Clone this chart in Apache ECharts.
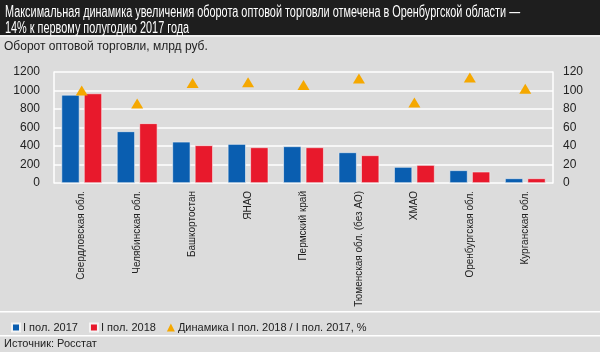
<!DOCTYPE html>
<html>
<head>
<meta charset="utf-8">
<script src="https://cdn.jsdelivr.net/npm/echarts@6/dist/echarts.min.js"></script>
<style>
  html, body { margin: 0; padding: 0; background: #dcdcdc; }
  #chart { width: 600px; height: 352px; }
</style>
</head>
<body>
<div id="chart"></div>
<script>
var regions = ['Свердловская обл.', 'Челябинская обл.', 'Башкортостан', 'ЯНАО', 'Пермский край',
    'Тюменская обл. (без АО)', 'ХМАО', 'Оренбургская обл.', 'Курганская обл.'];
var turnover2017 = [953, 558, 446, 421, 396, 331, 173, 137, 50];
var turnover2018 = [968, 645, 407, 385, 385, 299, 194, 122, 50];
var dynamics = [100, 86, 108, 109, 106, 113, 87, 114, 102];

var font = '"Liberation Sans", Arial, sans-serif';
var titleText = 'Максимальная динамика увеличения оборота оптовой торговли отмечена в Оренбургской области —\n14% к первому полугодию 2017 года';

var option = {
    backgroundColor: '#dcdcdc',
    animation: false,
    textStyle: {fontFamily: font},
    graphic: [
        {type: 'rect', shape: {x: 0, y: 0, width: 600, height: 35}, style: {fill: '#1e1e1e'}},
        {type: 'rect', shape: {x: 0, y: 35, width: 600, height: 2}, style: {fill: '#efefef'}},
        {type: 'rect', shape: {x: 0, y: 311, width: 600, height: 1.5}, style: {fill: '#ffffff'}},
        {type: 'rect', shape: {x: 0, y: 335, width: 600, height: 1.5}, style: {fill: '#ffffff'}},
        {
            type: 'text', x: 5, y: 5, scaleX: 0.68, z: 10,
            style: {text: titleText, fill: '#ffffff', font: '16px ' + font, lineHeight: 15.5}
        },
        {
            type: 'text', x: 4, y: 41, z: 10,
            style: {text: 'Оборот оптовой торговли, млрд руб.', fill: '#222', font: '12px ' + font}
        },
        {
            type: 'text', x: 4, y: 338, z: 10,
            style: {text: 'Источник: Росстат', fill: '#222', font: '11px ' + font}
        }
    ],
    legend: {
        left: 6,
        top: 317,
        itemWidth: 8,
        itemHeight: 8,
        itemGap: 11,
        textStyle: {color: '#222', fontSize: 11, fontFamily: font, padding: [0, 0, 0, -2]},
        data: [
            {name: 'I пол. 2017', icon: 'rect'},
            {name: 'I пол. 2018', icon: 'rect'},
            {name: 'Динамика I пол. 2018 / I пол. 2017, %', icon: 'triangle'}
        ]
    },
    grid: {left: 54, right: 47, top: 72, bottom: 169},
    xAxis: [{
        type: 'category',
        data: regions,
        axisLine: {show: false},
        axisTick: {show: false},
        axisLabel: {rotate: 90, color: '#222', fontSize: 10, fontFamily: font, margin: 8, interval: 0}
    }],
    yAxis: [
        {
            type: 'value',
            min: 0,
            max: 1200,
            interval: 200,
            axisLine: {show: true, lineStyle: {color: '#ffffff', width: 1.5}},
            axisTick: {show: false},
            splitLine: {lineStyle: {color: '#ffffff', width: 1.5}},
            axisLabel: {
                color: '#222', fontSize: 12, fontFamily: font, margin: 14,
                formatter: function (v) { return String(v); }
            }
        },
        {
            type: 'value',
            min: 0,
            max: 120,
            interval: 20,
            position: 'right',
            axisLine: {show: true, lineStyle: {color: '#ffffff', width: 1.5}},
            axisTick: {show: false},
            splitLine: {show: false},
            axisLabel: {color: '#222', fontSize: 12, fontFamily: font, margin: 10}
        }
    ],
    series: [
        {
            name: 'I пол. 2017',
            type: 'bar',
            data: turnover2017,
            barWidth: 18,
            barGap: '25%',
            itemStyle: {color: '#0a5eb0', borderColor: '#f4f4f4', borderWidth: 0.6}
        },
        {
            name: 'I пол. 2018',
            type: 'bar',
            data: turnover2018,
            barWidth: 18,
            itemStyle: {color: '#e8192c', borderColor: '#f4f4f4', borderWidth: 0.6}
        },
        {
            name: 'Динамика I пол. 2018 / I пол. 2017, %',
            type: 'scatter',
            yAxisIndex: 1,
            data: dynamics,
            symbol: 'triangle',
            symbolSize: [12, 10],
            itemStyle: {color: '#f5a800', opacity: 1},
            z: 5
        }
    ]
};

var myChart = echarts.init(document.getElementById('chart'));
myChart.setOption(option);
</script>
</body>
</html>
